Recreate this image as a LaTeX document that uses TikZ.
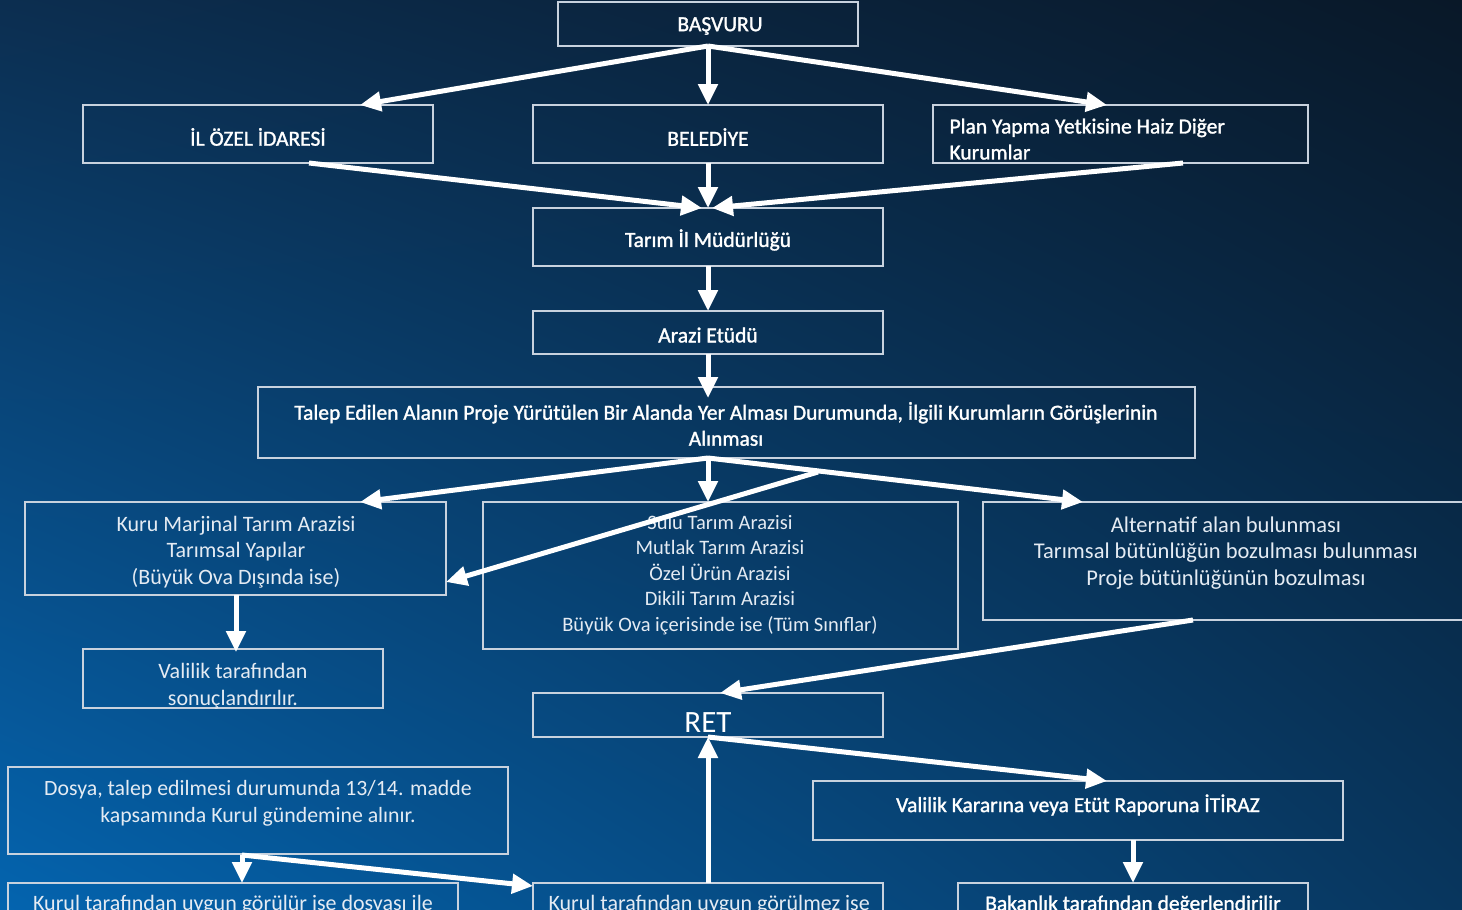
\documentclass[tikz,border=0pt]{standalone}
\usepackage{fontspec}
\setmainfont{Carlito}
\newfontfamily\hdrfont[FakeBold=1.4]{Carlito}
\usetikzlibrary{arrows.meta,shadings}
\definecolor{bgTL}{RGB}{12,46,80}
\definecolor{bgTR}{RGB}{9,24,40}
\definecolor{bgBL}{RGB}{4,100,175}
\definecolor{bgBR}{RGB}{8,54,94}
\definecolor{boxline}{RGB}{200,210,222}
\definecolor{lighttext}{RGB}{228,235,243}
\tikzset{
  box/.style={draw=boxline, line width=1.3pt, inner sep=0pt},
  hdr/.style={text=white, font=\hdrfont\fontsize{21.5}{26}\selectfont, align=center},
  lite/.style={text=lighttext, font=\fontsize{22}{26.5}\selectfont, align=center},
  flow/.style={draw=white, line width=5pt, -{Triangle[length=21pt,width=19pt]}},
}
\begin{document}
\begin{tikzpicture}[x=1pt,y=-1pt]
\useasboundingbox (0,0) rectangle (1462,910);
\clip (0,0) rectangle (1462,910);
\shade[upper left=bgTL, upper right=bgTR, lower left=bgBL, lower right=bgBR] (0,0) rectangle (1462,910);

% boxes
\draw[box] (558,2) rectangle (858,46);
\coordinate (bs) at (708,46);
\node[hdr] (bst) at (720,26) {BAŞVURU};

\draw[box] (83,105) rectangle (433,163);
\node[hdr] (ilt) at (258,137) {İL ÖZEL İDARESİ};
\coordinate (ilT) at (360,105);
\coordinate (ilB) at (309,163);

\draw[box] (533,105) rectangle (883,163);
\node[hdr] (belt) at (708,137) {BELEDİYE};
\coordinate (belT) at (708,105);
\coordinate (belB) at (708,163);

\draw[box] (933,105) rectangle (1308,163);
\node[hdr, align=left, anchor=north west] (plt) at (946,115) {Plan Yapma Yetkisine Haiz Diğer\\Kurumlar};
\coordinate (plT) at (1107,105);
\coordinate (plB) at (1183,163);

\draw[box] (533,208) rectangle (883,266);
\node[hdr] (tart) at (708,240) {Tarım İl Müdürlüğü};
\coordinate (tarT) at (708,208);
\coordinate (tarTl) at (702,208);
\coordinate (tarTr) at (712,208);
\coordinate (tarB) at (708,266);

\draw[box] (533,311) rectangle (883,354);
\node[hdr] (art) at (708,335) {Arazi Etüdü};
\coordinate (arT) at (708,311);
\coordinate (arB) at (708,354);

\draw[box] (258,387) rectangle (1195,458);
\node[hdr] (talt) at (726,424) {Talep Edilen Alanın Proje Yürütülen Bir Alanda Yer Alması Durumunda, İlgili Kurumların Görüşlerinin\\Alınması};
\coordinate (talT) at (708,398);
\coordinate (talB) at (708,458);

\draw[box] (25,502) rectangle (446,595);
\node[lite] (kurt) at (236,552) {Kuru Marjinal Tarım Arazisi\\Tarımsal Yapılar\\(Büyük Ova Dışında ise)};
\coordinate (kurT) at (360,502);
\coordinate (kurR) at (446,582);
\coordinate (kurB) at (236,595);

\draw[box] (483,502) rectangle (958,649);
\node[lite, font=\fontsize{20.5}{25.5}\selectfont] (sut) at (720,575) {Sulu Tarım Arazisi\\Mutlak Tarım Arazisi\\Özel Ürün Arazisi\\Dikili Tarım Arazisi\\Büyük Ova içerisinde ise (Tüm Sınıflar)};
\coordinate (suT) at (708,502);

\draw[box] (983,502) rectangle (1470,620);
\node[lite, font=\fontsize{22.5}{26.5}\selectfont] (alt) at (1226,553) {Alternatif alan bulunması\\Tarımsal bütünlüğün bozulması bulunması\\Proje bütünlüğünün bozulması};
\coordinate (alT) at (1083,502);
\coordinate (alB) at (1193,620);
\coordinate (brk) at (818,472);

\draw[box] (83,649) rectangle (383,708);
\node[lite] (vst) at (233,686) {Valilik tarafından\\sonuçlandırılır.};
\coordinate (vsT) at (236,652);

\draw[box] (533,693) rectangle (883,737);
\node[text=white, font=\fontsize{31}{36}\selectfont] (rett) at (708,723) {RET};
\coordinate (retT) at (720,693);
\coordinate (retB) at (708,737);

\draw[box] (8,767) rectangle (508,854);
\node[lite, font=\fontsize{21.8}{27}\selectfont] (dot) at (258,803) {Dosya, talep edilmesi durumunda 13/14. madde\\kapsamında Kurul gündemine alınır.};
\coordinate (doB) at (242,855);

\draw[box] (813,781) rectangle (1343,840);
\node[hdr] (vkt) at (1078,805) {Valilik Kararına veya Etüt Raporuna İTİRAZ};
\coordinate (vkT) at (1107,781);
\coordinate (vkB) at (1133,840);

\draw[box] (8,883) rectangle (458,930);
\node[lite, font=\fontsize{22}{27}\selectfont, anchor=north] (k1t) at (233,892) {Kurul tarafından uygun görülür ise dosyası ile};
\coordinate (k1T) at (242,883);

\draw[box] (533,883) rectangle (883,930);
\node[lite, font=\fontsize{22}{27}\selectfont, anchor=north west] (k2t) at (545,892) {Kurul tarafından uygun görülmez ise};
\coordinate (k2T) at (708,883);
\coordinate (k2L) at (533,886);

\draw[box] (958,883) rectangle (1308,930);
\node[hdr, anchor=north] (bkt) at (1133,892) {Bakanlık tarafından değerlendirilir};
\coordinate (bkT) at (1133,883);

% connectors
\draw[flow] (bs) -- (ilT);
\draw[flow] (bs) -- (belT);
\draw[flow] (bs) -- (plT);
\draw[flow] (ilB) -- (tarTl);
\draw[flow] (belB) -- (tarT);
\draw[flow] (plB) -- (tarTr);
\draw[flow] (tarB) -- (arT);
\draw[flow] (arB) -- (talT);
\draw[flow] (talB) -- (kurT);
\draw[flow] (talB) -- (suT);
\draw[flow] (talB) -- (alT);
\draw[flow] (brk) -- (kurR);
\draw[flow] (kurB) -- (vsT);
\draw[flow] (alB) -- (retT);
\draw[flow] (retB) -- (vkT);
\draw[flow] (k2T) -- (retB);
\draw[flow] (vkB) -- (bkT);
\draw[flow] (doB) -- (k1T);
\draw[flow] (doB) -- (k2L);
\end{tikzpicture}
\end{document}
